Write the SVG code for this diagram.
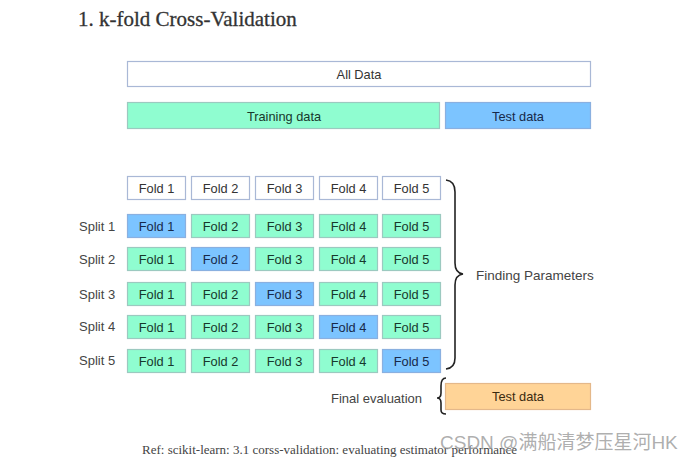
<svg xmlns="http://www.w3.org/2000/svg" width="691" height="461" viewBox="0 0 691 461">
<style>
.b{stroke:#a9b8d6;stroke-width:1.2}
.w{fill:#ffffff}
.g{fill:#8ffdd0;stroke:#9cc9c0}
.t{fill:#7cc4ff;stroke:#8ab0e0}
.o{fill:#ffd497;stroke:#e4b88a}
text{font-family:"Liberation Sans",Arial,sans-serif;font-size:12.8px;text-anchor:middle;dominant-baseline:central}
.dk{fill:#333}
.gt{fill:#17382c}
.bt{fill:#17294a}
.ot{fill:#3a2a10}
.lbl{fill:#444;text-anchor:start;font-size:13px}
.br{fill:none;stroke:#222;stroke-width:1.6}
</style>
<rect width="691" height="461" fill="#ffffff"/>
<text x="78" y="19" style="font-family:'Liberation Serif','Times New Roman',serif;font-size:21px;text-anchor:start;fill:#333;stroke:#333;stroke-width:0.3">1. k-fold Cross-Validation</text>

<g id="all-data"><rect class="b w" x="127.5" y="61.5" width="463" height="25"/><text class="dk" x="359" y="74">All Data</text></g>
<g id="training-data"><rect class="b g" x="127.5" y="102.5" width="312" height="26"/><text class="gt" x="284" y="116">Training data</text></g>
<g id="test-data"><rect class="b t" x="445.5" y="102.5" width="145" height="26"/><text class="bt" x="518" y="116">Test data</text></g>

<g id="header-row">
<rect class="b w" x="127.5" y="176.5" width="58" height="23"/><text class="dk" x="156.5" y="188">Fold 1</text>
<rect class="b w" x="191.5" y="176.5" width="58" height="23"/><text class="dk" x="220.5" y="188">Fold 2</text>
<rect class="b w" x="255.5" y="176.5" width="58" height="23"/><text class="dk" x="284.5" y="188">Fold 3</text>
<rect class="b w" x="319.5" y="176.5" width="58" height="23"/><text class="dk" x="348.5" y="188">Fold 4</text>
<rect class="b w" x="382.5" y="176.5" width="58" height="23"/><text class="dk" x="411.5" y="188">Fold 5</text>
</g>

<g id="split1">
<text class="lbl" x="79" y="226">Split 1</text>
<rect class="b t" x="127.5" y="214.5" width="58" height="23"/><text class="bt" x="156.5" y="226">Fold 1</text>
<rect class="b g" x="191.5" y="214.5" width="58" height="23"/><text class="gt" x="220.5" y="226">Fold 2</text>
<rect class="b g" x="255.5" y="214.5" width="58" height="23"/><text class="gt" x="284.5" y="226">Fold 3</text>
<rect class="b g" x="319.5" y="214.5" width="58" height="23"/><text class="gt" x="348.5" y="226">Fold 4</text>
<rect class="b g" x="382.5" y="214.5" width="58" height="23"/><text class="gt" x="411.5" y="226">Fold 5</text>
</g>
<g id="split2">
<text class="lbl" x="79" y="259">Split 2</text>
<rect class="b g" x="127.5" y="247.5" width="58" height="23"/><text class="gt" x="156.5" y="259">Fold 1</text>
<rect class="b t" x="191.5" y="247.5" width="58" height="23"/><text class="bt" x="220.5" y="259">Fold 2</text>
<rect class="b g" x="255.5" y="247.5" width="58" height="23"/><text class="gt" x="284.5" y="259">Fold 3</text>
<rect class="b g" x="319.5" y="247.5" width="58" height="23"/><text class="gt" x="348.5" y="259">Fold 4</text>
<rect class="b g" x="382.5" y="247.5" width="58" height="23"/><text class="gt" x="411.5" y="259">Fold 5</text>
</g>
<g id="split3">
<text class="lbl" x="79" y="294">Split 3</text>
<rect class="b g" x="127.5" y="282.5" width="58" height="23"/><text class="gt" x="156.5" y="294">Fold 1</text>
<rect class="b g" x="191.5" y="282.5" width="58" height="23"/><text class="gt" x="220.5" y="294">Fold 2</text>
<rect class="b t" x="255.5" y="282.5" width="58" height="23"/><text class="bt" x="284.5" y="294">Fold 3</text>
<rect class="b g" x="319.5" y="282.5" width="58" height="23"/><text class="gt" x="348.5" y="294">Fold 4</text>
<rect class="b g" x="382.5" y="282.5" width="58" height="23"/><text class="gt" x="411.5" y="294">Fold 5</text>
</g>
<g id="split4">
<text class="lbl" x="79" y="326">Split 4</text>
<rect class="b g" x="127.5" y="315.5" width="58" height="23"/><text class="gt" x="156.5" y="327">Fold 1</text>
<rect class="b g" x="191.5" y="315.5" width="58" height="23"/><text class="gt" x="220.5" y="327">Fold 2</text>
<rect class="b g" x="255.5" y="315.5" width="58" height="23"/><text class="gt" x="284.5" y="327">Fold 3</text>
<rect class="b t" x="319.5" y="315.5" width="58" height="23"/><text class="bt" x="348.5" y="327">Fold 4</text>
<rect class="b g" x="382.5" y="315.5" width="58" height="23"/><text class="gt" x="411.5" y="327">Fold 5</text>
</g>
<g id="split5">
<text class="lbl" x="79" y="360">Split 5</text>
<rect class="b g" x="127.5" y="349.5" width="58" height="23"/><text class="gt" x="156.5" y="361">Fold 1</text>
<rect class="b g" x="191.5" y="349.5" width="58" height="23"/><text class="gt" x="220.5" y="361">Fold 2</text>
<rect class="b g" x="255.5" y="349.5" width="58" height="23"/><text class="gt" x="284.5" y="361">Fold 3</text>
<rect class="b g" x="319.5" y="349.5" width="58" height="23"/><text class="gt" x="348.5" y="361">Fold 4</text>
<rect class="b t" x="382.5" y="349.5" width="58" height="23"/><text class="bt" x="411.5" y="361">Fold 5</text>
</g>

<g id="connectors">
<path class="br" d="M446,180 Q455,181 455,192 L455,263 Q455,273 463,274 Q455,275 455,285 L455,358 Q455,368 446,369"/>
<path class="br" d="M446,378 Q441,378 441,386 L441,393 Q441,398 437,398 Q441,398 441,403 L441,410 Q441,414 446,414"/>
</g>

<g id="finding-parameters"><text class="lbl" x="476" y="275" style="font-size:13.5px">Finding Parameters</text></g>
<g id="final-evaluation"><text class="lbl" x="331" y="398">Final evaluation</text></g>
<g id="final-test-data"><rect class="b o" x="445.5" y="383.5" width="145" height="26"/><text class="ot" x="518" y="396">Test data</text></g>

<text x="142" y="449" style="font-family:'Liberation Serif','Times New Roman',serif;font-size:13px;text-anchor:start;fill:#444">Ref: scikit-learn: 3.1 corss-validation: evaluating estimator performance</text>
<text x="440" y="442" style="font-family:'Liberation Sans','Noto Sans CJK SC',sans-serif;font-size:19px;text-anchor:start;fill:#999;fill-opacity:0.8">CSDN @满船清梦压星河HK</text>
</svg>
